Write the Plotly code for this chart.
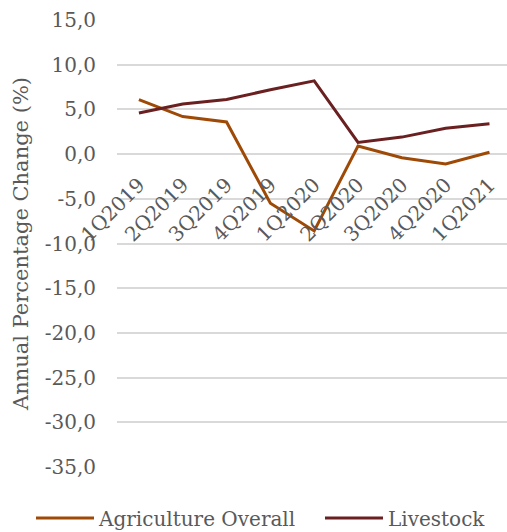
import plotly.graph_objects as go

quarters = ["1Q2019", "2Q2019", "3Q2019", "4Q2019", "1Q2020",
            "2Q2020", "3Q2020", "4Q2020", "1Q2021"]
agriculture_overall = [6.1, 4.2, 3.6, -5.5, -8.6, 0.9, -0.4, -1.1, 0.2]
livestock = [4.6, 5.6, 6.1, 7.2, 8.2, 1.3, 1.9, 2.9, 3.4]
y_ticks = [15, 10, 5, 0, -5, -10, -15, -20, -25, -30, -35]
y_tick_text = [f"{v:.1f}".replace(".", ",") for v in y_ticks]

FONT = "DejaVu Serif"
GREY = "#595959"

fig = go.Figure()
fig.add_trace(go.Scatter(
    x=quarters, y=agriculture_overall, mode="lines",
    name="Agriculture Overall", legend="legend",
    line=dict(color="#9E4A06", width=3),
))
fig.add_trace(go.Scatter(
    x=quarters, y=livestock, mode="lines",
    name="Livestock", legend="legend2",
    line=dict(color="#6A2020", width=3),
))

legend_style = dict(
    orientation="h", y=-0.114, yanchor="middle", xanchor="left",
    font=dict(family=FONT, size=20, color=GREY),
    itemwidth=58, bgcolor="rgba(0,0,0,0)",
)

fig.update_layout(
    width=507, height=532,
    margin=dict(l=117, r=0, t=20, b=65, autoexpand=False),
    paper_bgcolor="white", plot_bgcolor="white",
    font=dict(family=FONT, size=20, color=GREY),
    showlegend=True,
    legend=dict(x=-0.2205, **legend_style),
    legend2=dict(x=0.5205, **legend_style),
)

fig.update_yaxes(
    range=[-35, 15], tickvals=y_ticks, ticktext=y_tick_text,
    showgrid=True, gridcolor="#D9D9D9", gridwidth=1.5,
    zeroline=False, showline=False, automargin=False,
    ticklabelstandoff=20,
    tickfont=dict(family=FONT, size=20, color=GREY),
    title=dict(text="Annual Percentage Change (%)", standoff=10,
               font=dict(family=FONT, size=21, color=GREY)),
)

# category axis sits on the zero line: 0 is 35/50 of the way up
fig.update_xaxes(
    type="category", range=[-0.5, 8.4],
    anchor="free", position=0.7, automargin=False,
    showgrid=False, zeroline=False, showline=False,
    tickangle=-45, ticklabelstandoff=14,
    tickfont=dict(family=FONT, size=20, color=GREY),
)

fig.write_html("out.html")
